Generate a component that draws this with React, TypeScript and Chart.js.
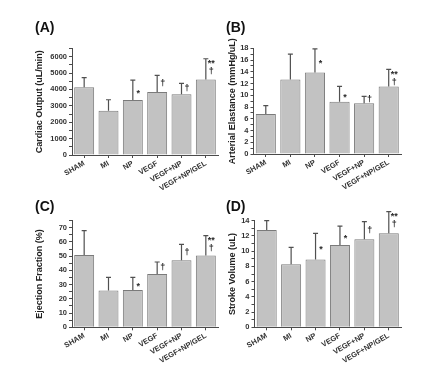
import React, { useEffect, useRef } from 'react';
import { Chart, registerables } from 'chart.js';

Chart.register(...registerables);

const categories = ['SHAM', 'MI', 'NP', 'VEGF', 'VEGF+NP', 'VEGF+NP/GEL'];

const cardiacOutput = [4130, 2700, 3350, 3840, 3700, 4610];
const cardiacOutputErr = [590, 670, 1220, 1020, 670, 1260];
const cardiacOutputMarks = ['', '', '*', '†', '†', '**|†'];

const arterialElastance = [6.8, 12.7, 13.9, 8.9, 8.65, 11.5];
const arterialElastanceErr = [1.45, 4.3, 4.0, 2.6, 1.15, 2.9];
const arterialElastanceMarks = ['', '', '*', '*', '†', '**|†'];

const ejectionFraction = [50.8, 25.8, 26.2, 37.5, 47.1, 50.4];
const ejectionFractionErr = [17.1, 9.3, 8.9, 8.4, 11.2, 14.0];
const ejectionFractionMarks = ['', '', '*', '†', '†', '**|†'];

const strokeVolume = [12.77, 8.27, 8.92, 10.8, 11.55, 12.34];
const strokeVolumeErr = [1.23, 2.23, 3.42, 2.5, 2.32, 2.86];
const strokeVolumeMarks = ['', '', '*', '*', '†', '**|†'];

const FONT = "'Liberation Sans', Arial, Helvetica, sans-serif";
const AXIS = '#4a4a4a';

type PanelCfg = {
  label: string;
  title: string;
  values: number[];
  errors: number[];
  marks: string[];
  max: number;
  minorStep: number;
  majorStep: number;
  left: number;
  top: number;
  width: number;
  height: number;
  plotLeft: number;
  plotRight: number;
  plotTop: number;
  plotBottom: number;
  titleX: number;
};

const panels: PanelCfg[] = [
  {
    label: '(A)', title: 'Cardiac Output (uL/min)', values: cardiacOutput, errors: cardiacOutputErr,
    marks: cardiacOutputMarks, max: 6500, minorStep: 500, majorStep: 1000,
    left: 0, top: 0, width: 221, height: 190, plotLeft: 72, plotRight: 218, plotTop: 48.4, plotBottom: 155, titleX: 40,
  },
  {
    label: '(B)', title: 'Arterial Elastance (mmHg/uL)', values: arterialElastance, errors: arterialElastanceErr,
    marks: arterialElastanceMarks, max: 18, minorStep: 1, majorStep: 2,
    left: 221, top: 0, width: 221, height: 190, plotLeft: 32.5, plotRight: 180, plotTop: 48.3, plotBottom: 154, titleX: 11.5,
  },
  {
    label: '(C)', title: 'Ejection Fraction (%)', values: ejectionFraction, errors: ejectionFractionErr,
    marks: ejectionFractionMarks, max: 75, minorStep: 5, majorStep: 10,
    left: 0, top: 190, width: 221, height: 189, plotLeft: 72, plotRight: 218, plotTop: 30.6, plotBottom: 137.3, titleX: 40,
  },
  {
    label: '(D)', title: 'Stroke Volume (uL)', values: strokeVolume, errors: strokeVolumeErr,
    marks: strokeVolumeMarks, max: 14, minorStep: 1, majorStep: 2,
    left: 221, top: 190, width: 221, height: 189, plotLeft: 33.5, plotRight: 180, plotTop: 30.7, plotBottom: 137.3, titleX: 12,
  },
];

function makeErrorPlugin(errors: number[], marks: string[]) {
  return {
    id: 'errorBarsAndMarks',
    afterDatasetsDraw(chart: any) {
      const { ctx, scales } = chart;
      const x = scales.x;
      const y = scales.y;
      const vals = chart.data.datasets[0].data as number[];
      ctx.save();
      ctx.strokeStyle = '#505050';
      ctx.lineWidth = 1.2;
      ctx.fillStyle = '#2a2a2a';
      ctx.textAlign = 'center';
      ctx.textBaseline = 'middle';
      vals.forEach((m, i) => {
        const px = x.getPixelForValue(i);
        const y0 = y.getPixelForValue(m);
        const y1 = y.getPixelForValue(m + errors[i]);
        ctx.beginPath();
        ctx.moveTo(px, y0);
        ctx.lineTo(px, y1);
        ctx.moveTo(px - 2.5, y1);
        ctx.lineTo(px + 2.5, y1);
        ctx.stroke();
        const mk = marks[i];
        if (!mk) return;
        const mid = y.getPixelForValue(m + errors[i] / 2);
        const mx = px + 5.5;
        const parts = mk.split('|');
        ctx.font = `bold 9px ${FONT}`;
        if (parts.length === 2) {
          ctx.fillText(parts[0], mx, y1 + 5);
          ctx.fillText(parts[1], mx, y1 + 13);
        } else {
          const s = parts[0];
          ctx.fillText(s, mx, s.startsWith('*') ? mid + 3 : mid);
        }
      });
      ctx.restore();
    },
  };
}

function Panel({ cfg }: { cfg: PanelCfg }) {
  const ref = useRef<HTMLCanvasElement | null>(null);
  useEffect(() => {
    if (!ref.current) return;
    const titleFont = 9;
    const chart = new Chart(ref.current, {
      type: 'bar',
      data: {
        labels: categories,
        datasets: [
          {
            data: cfg.values,
            backgroundColor: '#c2c2c2',
            borderColor: '#7a7a7a',
            borderWidth: 1,
            barPercentage: 0.82,
            categoryPercentage: 1,
          },
        ],
      },
      options: {
        responsive: false,
        maintainAspectRatio: false,
        animation: false,
        layout: {
          padding: {
            left: 0,
            top: cfg.plotTop,
            right: cfg.width - cfg.plotRight,
            bottom: 0,
          },
        },
        plugins: {
          legend: { display: false },
          tooltip: { enabled: false },
          title: { display: false },
        },
        scales: {
          x: {
            afterFit: (s: any) => {
              s.height = cfg.height - cfg.plotBottom;
            },
            border: { display: true, color: AXIS, width: 1 },
            grid: { display: true, drawOnChartArea: false, drawTicks: true, tickLength: 3, tickColor: AXIS, offset: false },
            ticks: {
              font: { family: FONT, size: 7.5, weight: 'bold' },
              color: '#333',
              minRotation: 30,
              maxRotation: 30,
              autoSkip: false,
              padding: 1,
            },
          },
          y: {
            min: 0,
            max: cfg.max,
            afterFit: (s: any) => {
              s.width = cfg.plotLeft;
            },
            border: { display: true, color: AXIS, width: 1 },
            grid: { display: true, drawOnChartArea: false, drawTicks: true, tickLength: 3, tickColor: AXIS },
            ticks: {
              stepSize: cfg.minorStep,
              autoSkip: false,
              font: { family: FONT, size: 7.5, weight: 'bold' },
              color: '#333',
              padding: 2,
              callback: (v: any) => (Math.abs(v % cfg.majorStep) < 1e-9 ? String(v) : ''),
            },
            title: {
              display: true,
              text: cfg.title,
              font: { family: FONT, size: titleFont, weight: 'bold' },
              color: '#222',
              padding: { top: cfg.titleX - (titleFont * 1.2) / 2, bottom: 0 },
            },
          },
        },
      },
      plugins: [makeErrorPlugin(cfg.errors, cfg.marks)],
    } as any);
    return () => chart.destroy();
  }, [cfg]);

  return (
    <div style={{ position: 'absolute', left: cfg.left, top: cfg.top, width: cfg.width, height: cfg.height }}>
      <canvas ref={ref} width={cfg.width} height={cfg.height} style={{ width: cfg.width, height: cfg.height, display: 'block' }} />
      <div
        style={{
          position: 'absolute',
          left: cfg.left === 0 ? 35 : 5,
          top: cfg.top === 0 ? 20 : 9,
          font: `bold 14px ${FONT}`,
          lineHeight: '14px',
          color: '#111',
          whiteSpace: 'nowrap',
        }}
      >
        {cfg.label}
      </div>
    </div>
  );
}

export default function App() {
  return (
    <div style={{ position: 'fixed', left: 0, top: 0, width: 442, height: 379, background: '#fff' }}>
      {panels.map((p) => (
        <Panel key={p.label} cfg={p} />
      ))}
    </div>
  );
}
